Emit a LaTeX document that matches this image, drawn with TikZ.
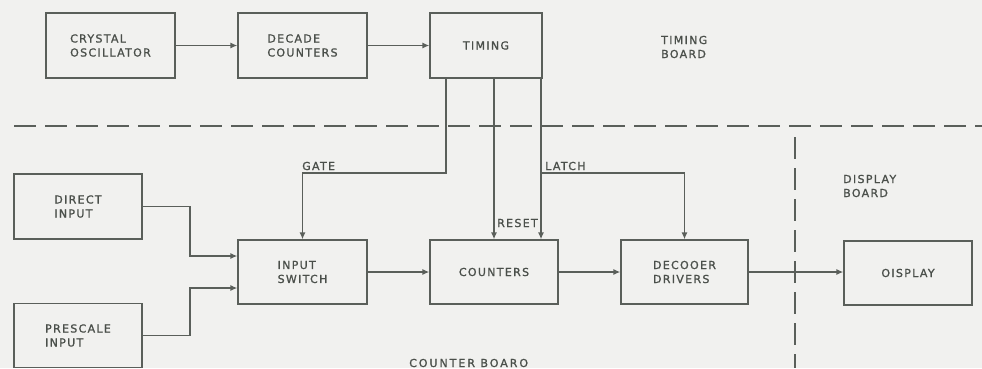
\documentclass[tikz,border=0pt]{standalone}
\usepackage{fontspec}
\setmainfont{DejaVu Sans}[LetterSpace=12,FakeBold=1.2]
\usetikzlibrary{arrows.meta,calc}
\definecolor{bg}{HTML}{F1F1EF}
\definecolor{ink}{HTML}{5A5F5A}
\definecolor{txt}{HTML}{4A4F4A}
\begin{document}
\begin{tikzpicture}[x=1pt,y=-1pt,
  blk/.style={draw=ink,line width=1.3pt,inner sep=0pt,align=left,text=txt,font=\fontsize{11}{14}\selectfont},
  lbl/.style={inner sep=0pt,text=txt,font=\fontsize{11}{14}\selectfont,align=left},
  arr/.style={draw=ink,line width=1.3pt,-{Latex[length=7pt,width=6pt]}},
  bd/.style={draw=ink,line width=1.6pt,dash pattern=on 22pt off 9pt}]
\fill[bg] (0,0) rectangle (982,368);
\useasboundingbox (0,0) rectangle (982,368);
% blocks
\node[blk,minimum width=129pt,minimum height=65pt] (osc) at (110.5,45.5) {CRYSTAL\\OSCILLATOR};
\node[blk,minimum width=129pt,minimum height=65pt] (dec) at (302.5,45.5) {DECADE\\COUNTERS};
\node[blk,minimum width=112pt,minimum height=65pt] (tim) at (486,45.5) {TIMING};
\node[blk,minimum width=128pt,minimum height=65pt] (dir) at (78,206.5) {DIRECT\\INPUT};
\node[blk,minimum width=128pt,minimum height=64pt] (pre) at (78,335.5) {PRESCALE\\INPUT};
\node[blk,minimum width=129pt,minimum height=64pt] (sw) at (302.5,272) {INPUT\\SWITCH};
\node[blk,minimum width=128pt,minimum height=64pt] (cnt) at (494,272) {COUNTERS};
\node[blk,minimum width=127pt,minimum height=64pt] (drv) at (684.5,272) {DECOOER\\DRIVERS};
\node[blk,minimum width=128pt,minimum height=64pt] (dsp) at (908,273) {OISPLAY};
% board labels
\node[lbl,anchor=west] (tb) at (661,47) {TIMING\\BOARD};
\node[lbl,anchor=west] (db) at (843,186) {DISPLAY\\BOARD};
\node[lbl,anchor=west,font=\fontsize{11}{14}\selectfont\addfontfeatures{LetterSpace=18}] (cb) at (409,363) {COUNTER BOARO};
% board boundaries
\draw[bd] (14,126) -- (982,126);
\draw[bd] (795,137) -- (795,368);
% helper coordinates
\coordinate (gx) at (446,173);
\coordinate (lx) at (541,173);
\coordinate (jx) at (190,0);
\coordinate (swA) at ($(sw.west)+(0,-16)$);
\coordinate (swB) at ($(sw.west)+(0,16)$);
% connectors
\draw[arr] (osc.east) -- (dec.west);
\draw[arr] (dec.east) -- (tim.west);
\draw[arr] (tim.south -| gx) -- (gx) -| (sw.north);
\draw[arr] (tim.south -| cnt.north) -- (cnt.north);
\draw[arr] (tim.south -| lx) -- (cnt.north -| lx);
\draw[arr] (lx) -| (drv.north);
\draw[arr] (dir.east) -| (jx |- swA) -- (swA);
\draw[arr] (pre.east) -| (jx |- swB) -- (swB);
\draw[arr] (sw.east) -- (cnt.west);
\draw[arr] (cnt.east) -- (drv.west);
\draw[arr] (drv.east) -- (dsp.west |- drv.east);
% signal labels
\node[lbl,anchor=base west] (gt) at (302,170) {GATE};
\node[lbl,anchor=base west] (lt) at (545,170) {LATCH};
\node[lbl,anchor=base west] (rs) at (497,227) {RESET};
\end{tikzpicture}
\end{document}
